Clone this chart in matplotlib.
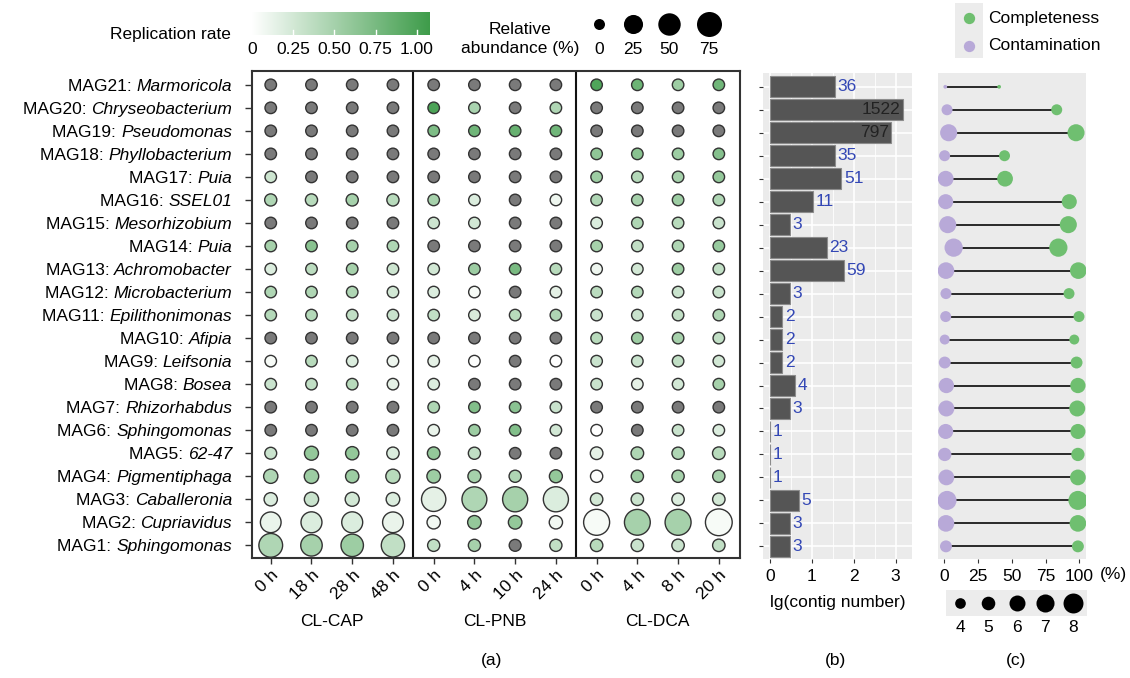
import numpy as np
import matplotlib
matplotlib.use('Agg')
import matplotlib.pyplot as plt
from matplotlib.colors import LinearSegmentedColormap
from matplotlib.transforms import blended_transform_factory, offset_copy

plt.rcParams['font.family'] = ['Liberation Sans', 'DejaVu Sans']

n = np.nan
mags = ['MAG%d' % i for i in range(21, 0, -1)]
genera = ['Marmoricola', 'Chryseobacterium', 'Pseudomonas', 'Phyllobacterium',
          'Puia', 'SSEL01', 'Mesorhizobium', 'Puia', 'Achromobacter',
          'Microbacterium', 'Epilithonimonas', 'Afipia', 'Leifsonia', 'Bosea',
          'Rhizorhabdus', 'Sphingomonas', '62-47', 'Pigmentiphaga',
          'Caballeronia', 'Cupriavidus', 'Sphingomonas']
timepoints = ['0 h', '18 h', '28 h', '48 h',
              '0 h', '4 h', '10 h', '24 h',
              '0 h', '4 h', '8 h', '20 h']
groups = ['CL-CAP', 'CL-PNB', 'CL-DCA']

# replication rate per MAG (rows, MAG21 first) x sample; nan = not estimated
rate = np.array([
    [n, n, n, n,             n, n, n, n,             0.98, 0.82, 0.55, 0.80],
    [n, n, n, n,             1.00, 0.48, n, 0.45,    n, n, n, n],
    [n, n, n, n,             0.72, 0.80, 0.85, 0.80, n, n, n, n],
    [n, n, n, n,             n, n, n, n,             0.62, 0.66, 0.55, 0.68],
    [0.28, n, n, n,          n, n, n, n,             0.55, 0.42, 0.50, 0.60],
    [0.45, 0.40, 0.50, 0.40, 0.50, 0.20, n, 0.10,    0.45, 0.50, 0.55, 0.45],
    [n, n, n, n,             0.28, 0.25, n, n,       0.20, 0.45, 0.40, 0.30],
    [0.50, 0.66, 0.50, 0.45, n, n, n, n,             0.50, 0.35, 0.45, 0.58],
    [0.20, 0.38, 0.50, 0.28, 0.25, 0.55, 0.75, 0.40, 0.10, 0.25, 0.55, 0.35],
    [0.45, 0.45, 0.45, 0.25, 0.20, 0.05, n, 0.15,    0.38, 0.42, 0.30, 0.30],
    [0.42, 0.42, 0.35, 0.30, 0.35, 0.22, 0.40, 0.45, 0.30, 0.30, 0.35, 0.45],
    [n, n, n, n,             n, n, n, n,             0.40, 0.55, 0.50, 0.35],
    [0.05, 0.40, 0.20, 0.10, 0.15, 0.02, n, 0.00,    0.30, 0.30, 0.35, 0.25],
    [0.30, 0.35, 0.40, 0.15, 0.20, n, n, n,          0.30, 0.15, 0.25, 0.50],
    [n, n, n, n,             0.45, 0.70, 0.65, 0.30, n, n, n, n],
    [n, n, n, n,             0.12, 0.55, 0.70, 0.25, 0.00, n, 0.30, 0.20],
    [0.30, 0.60, 0.60, 0.20, 0.60, 0.35, n, n,       0.15, 0.45, 0.45, 0.40],
    [0.45, 0.55, 0.55, 0.40, 0.55, 0.50, 0.45, 0.60, 0.02, 0.55, 0.50, 0.50],
    [0.20, 0.30, 0.25, 0.20, 0.15, 0.45, 0.50, 0.20, 0.25, 0.30, 0.20, 0.25],
    [0.12, 0.20, 0.20, 0.12, 0.08, 0.60, 0.60, 0.08, 0.05, 0.50, 0.50, 0.05],
    [0.45, 0.50, 0.55, 0.35, 0.35, 0.50, n, 0.35,    0.40, 0.30, 0.30, 0.35],
])

# relative abundance (%), same layout
abund = np.full(rate.shape, 0.1)
abund[5, 0:4] = [0.5, 0.5, 0.5, 0.5]
abund[16] = [0.3, 3.4, 2.0, 0.7, 1.0, 0.5, 0.1, 0.1, 1.0, 1.0, 0.6, 1.0]
abund[17] = [4.0, 4.5, 2.0, 4.0, 2.5, 1.5, 0.5, 1.5, 0.6, 0.6, 0.6, 0.6]
abund[18] = [2.0, 4.0, 3.5, 2.5, 68.0, 74.0, 76.0, 76.0, 0.8, 0.8, 0.8, 0.8]
abund[19] = [36.0, 38.0, 38.0, 36.0, 2.0, 2.5, 2.5, 2.0, 86.0, 84.0, 86.0, 95.0]
abund[20] = [62.0, 42.0, 50.0, 58.0, 0.5, 0.5, 0.3, 0.5, 0.8, 0.8, 0.8, 0.8]

contigs = [36, 1522, 797, 35, 51, 11, 3, 23, 59, 3, 2, 2, 2, 4, 3, 1, 1, 1, 5, 3, 3]
completeness = [40.6, 83.3, 97.6, 44.6, 45.0, 92.6, 91.9, 84.5, 99.3, 92.4, 99.8,
                96.3, 98.0, 99.0, 98.5, 99.0, 99.0, 99.0, 99.0, 99.0, 99.0]
contamination = [0.7, 2.0, 3.2, 0.2, 1.0, 1.0, 2.5, 6.9, 1.2, 1.2, 1.0,
                 0.3, 0.3, 1.5, 1.5, 1.0, 0.3, 1.5, 2.0, 1.2, 1.2]
genome_mb = [2.6, 4.1, 6.5, 4.1, 5.9, 5.6, 6.5, 7.1, 6.3, 4.1, 4.1,
             3.8, 4.4, 5.7, 6.0, 5.6, 4.9, 5.9, 7.5, 6.3, 4.4]

W, H = 1130, 678
fig = plt.figure(figsize=(W / 100, H / 100), dpi=100)
FS = 12.5
EDGE = '#333333'
GREEN = '#6fbf70'
PURPLE = '#b8a9d8'
cmap = LinearSegmentedColormap.from_list('rr', ['#ffffff', '#3e9c4a'])
RMAX = 1.08


def px_axes(x0, y0, x1, y1):
    return fig.add_axes([x0 / W, 1 - y1 / H, (x1 - x0) / W, (y1 - y0) / H])


def abund_size(v):
    d = 11 + 14 * np.sqrt(np.asarray(v, float) / 75)
    return (0.72 * d) ** 2


def genome_size(v):
    return 36.8 * (np.asarray(v, float) - 2.4)


nrow = len(mags)
ys = np.arange(nrow, 0, -1)
YLIM = (0.45, 21.6)

# ---- (a) replication rate bubble grid
axa = px_axes(252, 71, 740, 558)
xs = np.arange(1, len(timepoints) + 1)
X, Y = np.meshgrid(xs, ys)
na = np.isnan(rate)
axa.scatter(X[na], Y[na], s=abund_size(abund[na]), c='#7a7a7a',
            edgecolors=EDGE, linewidths=1.0, zorder=3)
axa.scatter(X[~na], Y[~na], s=abund_size(abund[~na]), c=rate[~na], cmap=cmap,
            vmin=0, vmax=RMAX, edgecolors=EDGE, linewidths=1.0, zorder=3)
for xv in (4.5, 8.5):
    axa.axvline(xv, color='#111111', lw=1.5)
axa.set_xlim(0.54, 12.52)
axa.set_ylim(*YLIM)
axa.set_xticks(xs)
axa.set_xticklabels(timepoints, rotation=45, ha='right', va='top',
                    rotation_mode='anchor', fontsize=FS)
axa.set_yticks(ys)
axa.set_yticklabels([])
axa.tick_params(axis='y', length=5, width=1, color=EDGE)
axa.tick_params(axis='x', length=4, width=1, color=EDGE, pad=3)
for sp in axa.spines.values():
    sp.set_linewidth(1.5)
    sp.set_color(EDGE)
tr = blended_transform_factory(axa.transData, axa.transAxes)
for i, g in enumerate(groups):
    axa.text(2.5 + 4 * i, -0.131, g, transform=tr, ha='center', va='center',
             fontsize=FS)

# row labels: "MAGn: " upright, genus in italics
renderer = fig.canvas.get_renderer()
lab_tr = offset_copy(axa.get_yaxis_transform(), fig=fig, x=-20, units='dots')
for y, m, g in zip(ys, mags, genera):
    t = axa.text(0, y, g, style='italic', transform=lab_tr, ha='right',
                 va='center_baseline', fontsize=FS)
    w = t.get_window_extent(renderer).width
    pre_tr = offset_copy(axa.get_yaxis_transform(), fig=fig, x=-20 - w, units='dots')
    axa.text(0, y, m + ': ', transform=pre_tr, ha='right', va='center_baseline',
             fontsize=FS)

# ---- (b) contig numbers
axb = px_axes(763, 73, 912, 559)
lg = np.log10(contigs)
axb.set_facecolor('#ebebeb')
axb.barh(ys, lg, height=0.9, color='#555555', edgecolor='#8c8c8c', lw=0.8, zorder=3)
axb.set_xticks([0, 1, 2, 3])
axb.set_xticks([0.5, 1.5, 2.5], minor=True)
axb.set_yticks(ys)
axb.grid(which='major', color='white', lw=1.2, zorder=0)
axb.grid(which='minor', axis='x', color='white', lw=0.6, zorder=0)
axb.set_axisbelow(True)
axb.set_xlim(-0.16, 3.39)
axb.set_ylim(*YLIM)
axb.set_yticklabels([])
axb.tick_params(which='major', length=3, width=0.8, color='#333333',
                labelsize=FS, pad=4)
axb.tick_params(which='minor', length=0)
for sp in axb.spines.values():
    sp.set_visible(False)
for y, v, c in zip(ys, lg, contigs):
    if c > 500:
        axb.text(v - 0.06, y, str(c), ha='right', va='center', color='#222222',
                 fontsize=FS, zorder=4)
    else:
        axb.text(v + 0.06, y, str(c), ha='left', va='center', color='#3347b5',
                 fontsize=FS, zorder=4)

# ---- (c) completeness / contamination
axc = px_axes(938, 73, 1086, 559)
axc.set_facecolor('#ebebeb')
axc.hlines(ys, contamination, completeness, color='#1a1a1a', lw=1.3, zorder=2)
axc.scatter(contamination, ys, s=genome_size(genome_mb), c=PURPLE, lw=0, zorder=3)
axc.scatter(completeness, ys, s=genome_size(genome_mb), c=GREEN, lw=0, zorder=4)
axc.set_xlim(-4.7, 105)
axc.set_ylim(*YLIM)
axc.set_xticks([0, 25, 50, 75, 100])
axc.set_yticks([])
axc.tick_params(length=3, width=0.8, color='#333333', labelsize=FS, pad=4)
for sp in axc.spines.values():
    sp.set_visible(False)

# ---- legends and labels in pixel space
ov = fig.add_axes([0, 0, 1, 1])
ov.set_xlim(0, W)
ov.set_ylim(H, 0)
ov.axis('off')

cb = px_axes(252, 12, 430, 35)
cb.imshow(np.linspace(0, RMAX, 256)[None, :], cmap=cmap, vmin=0, vmax=RMAX,
          extent=(0, RMAX, 0, 1), aspect='auto')
for v in (0.25, 0.5, 0.75, 1.0):
    cb.plot([v, v], [0, 0.22], color='white', lw=1)
cb.set_xlim(0, RMAX)
cb.set_ylim(0, 1)
cb.axis('off')
cbt = blended_transform_factory(cb.transData, ov.transData)
for v, lab in zip((0, 0.25, 0.5, 0.75, 1.0), ('0', '0.25', '0.50', '0.75', '1.00')):
    cb.text(v, 49, lab, transform=cbt, ha='center', va='center', fontsize=FS)
ov.text(231, 35, 'Replication rate', ha='right', va='center', fontsize=FS)

ov.text(520, 29, 'Relative', ha='center', va='center', fontsize=FS)
ov.text(520, 49, 'abundance (%)', ha='center', va='center', fontsize=FS)
for xv, v in zip((599, 633, 669, 709), (0, 25, 50, 75)):
    ov.scatter([xv], [24], s=abund_size(v), c='black', lw=0)
    ov.text(xv, 49, str(v), ha='center', va='center', fontsize=FS)

ov.add_patch(plt.Rectangle((955, 3), 28, 55, color='#ececec', lw=0))
ov.scatter([969], [18], s=genome_size(4.2), c=GREEN, lw=0)
ov.scatter([969], [46], s=genome_size(4.2), c=PURPLE, lw=0)
ov.text(988, 18, 'Completeness', ha='left', va='center', fontsize=FS)
ov.text(988, 46, 'Contamination', ha='left', va='center', fontsize=FS)

ov.add_patch(plt.Rectangle((946, 590), 141, 26, color='#ececec', lw=0))
for xv, v in zip((960, 988, 1016.5, 1045, 1073), (4, 5, 6, 7, 8)):
    ov.scatter([xv], [603], s=genome_size(v), c='black', lw=0)
    ov.text(xv, 628, str(v), ha='center', va='center', fontsize=FS)

ov.text(1113, 574, '(%)', ha='center', va='center', fontsize=FS)
ov.text(838, 602, 'lg(contig number)', ha='center', va='center', fontsize=FS)
ov.text(492, 661, '(a)', ha='center', va='center', fontsize=FS)
ov.text(836, 661, '(b)', ha='center', va='center', fontsize=FS)
ov.text(1016, 661, '(c)', ha='center', va='center', fontsize=FS)

fig.savefig('out.png', dpi=100)
